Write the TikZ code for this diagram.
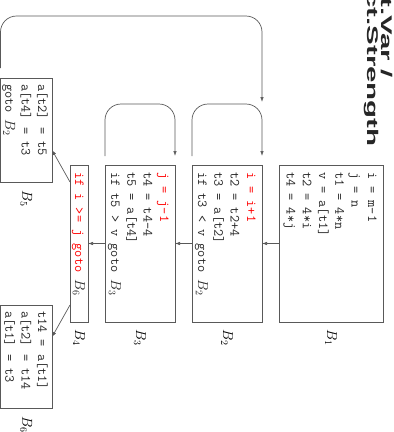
\documentclass[tikz,border=0pt]{standalone}
\usepackage{fontspec}
\usepackage{graphicx}
\usetikzlibrary{arrows.meta,calc}
\newfontfamily\titlefont{Liberation Sans}
\definecolor{ln}{gray}{0.35}
\definecolor{codered}{RGB}{255,0,0}
\begin{document}
\begin{tikzpicture}[x=1pt,y=-1pt,
  box/.style={draw=ln, line width=0.7pt, inner sep=0pt, outer sep=0pt},
  code/.style={rotate=-90, anchor=base west, inner sep=0pt, text=black!85,
    font=\fontsize{13.9}{16.3}\selectfont\ttfamily},
  lab/.style={rotate=-90, inner sep=0pt, font=\fontsize{13.9}{16}\selectfont},
  ttl/.style={rotate=-90, anchor=base west, inner sep=0pt, text=black!85,
    font=\fontsize{15.5}{16}\selectfont\titlefont\bfseries},
  arr/.style={draw=ln, line width=0.7pt, -{Latex[length=5pt,width=3.5pt]}},
  lp/.style={arr, rounded corners=16pt}]
\useasboundingbox (0,0) rectangle (394,432);

% title (clipped at the top edge)
\node[ttl] (T1) at (381,-3) {\scalebox{1.9}[1]{t.Var /}};
\node[ttl] (T2) at (367,-9) {\scalebox{1.9}[1]{ct.Strength}};

% blocks
\node[box, minimum width=104pt, minimum height=157pt] (B1) at (331,243.5) {};
\node[box, minimum width=70pt, minimum height=157pt] (B2) at (227,243.5) {};
\node[box, minimum width=70pt, minimum height=157pt] (B3) at (140,243.5) {};
\node[box, minimum width=18pt, minimum height=157pt] (B4) at (79,243.5) {};
\node[box, minimum width=51.5pt, minimum height=104pt] (B5) at (26.25,130) {};
\node[box, minimum width=51.5pt, minimum height=103pt] (B6) at (26.25,356.5) {};

% code
\node[code] (C1) at (368,172) {\begin{tabular}[t]{@{}l@{}}
i = m-1\\ j = n\\ t1 = 4*n\\ v = a[t1]\\ t2 = 4*i\\ t4 = 4*j\end{tabular}};
\node[code] (C2) at (247,172) {\begin{tabular}[t]{@{}l@{}}
\textcolor{codered}{i = i+1}\\ t2 = t2+4\\ t3 = a[t2]\\ if t3 < v goto $B_2$\end{tabular}};
\node[code] (C3) at (160,172) {\begin{tabular}[t]{@{}l@{}}
\textcolor{codered}{j = j-1}\\ t4 = t4-4\\ t5 = a[t4]\\ if t5 > v goto $B_3$\end{tabular}};
\node[code] (C4) at (75,172) {\textcolor{codered}{if i >= j goto} $B_6$};
\node[code] (C5) at (38,84) {\begin{tabular}[t]{@{}l@{}}
a[t2] = t5\\ a[t4] = t3\\ goto $B_2$\end{tabular}};
\node[code] (C6) at (38,311) {\begin{tabular}[t]{@{}l@{}}
t14 = a[t1]\\ a[t2] = t14\\ a[t1] = t3\end{tabular}};

% labels
\node[lab] (L1) at ([yshift=-16pt]B1.south) {$B_1$};
\node[lab] (L2) at ([yshift=-16pt]B2.south) {$B_2$};
\node[lab] (L3) at ([yshift=-16pt]B3.south) {$B_3$};
\node[lab] (L4) at ([yshift=-16pt]B4.south) {$B_4$};
\node[lab] (L5) at ([yshift=-17pt]B5.south) {$B_5$};
\node[lab] (L6) at ([yshift=-17pt]B6.south) {$B_6$};

% straight edges
\draw[arr] (B1.west) -- (B2.east);
\draw[arr] (B2.west) -- (B3.east);
\draw[arr] (B3.west) -- (B4.east);
\draw[arr] ([yshift=-17pt]B4.north west) -- ([yshift=-20pt]B5.east);
\draw[arr] ([yshift=-140pt]B4.north west) -- ([yshift=19.5pt]B6.east);

% self loops
\coordinate (L2top) at ([yshift=61pt]B2.north east);
\draw[lp] ([yshift=9pt]B2.north west) |- ([yshift=61pt]B2.north) -| ([yshift=9pt]B2.north east);
\draw[lp] ([yshift=9pt]B3.north west) |- ([yshift=61pt]B3.north) -| ([yshift=9pt]B3.north east);

% back edge B5 -> B2
\coordinate (B5out) at ([yshift=10pt]B5.north west);
\draw[lp] (B5out) -- ++(0,-52) -| ([yshift=2pt]L2top);
\end{tikzpicture}
\end{document}
